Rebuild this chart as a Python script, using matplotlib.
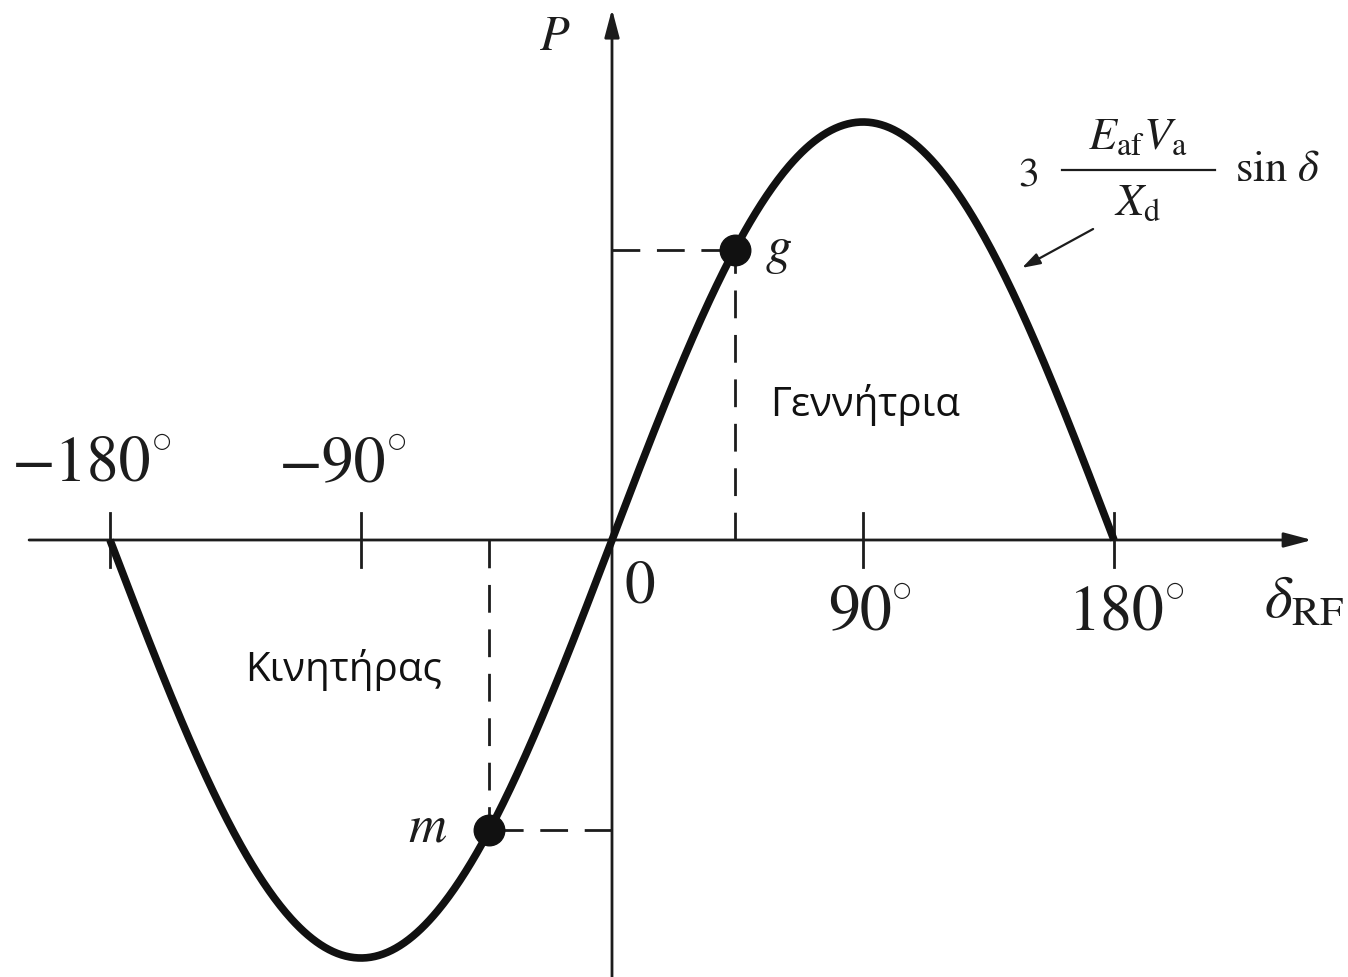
import numpy as np
import matplotlib
matplotlib.use("Agg")
import matplotlib.pyplot as plt

plt.rcParams['mathtext.fontset'] = 'stix'
plt.rcParams['font.family'] = ['Liberation Serif', 'DejaVu Serif']

# Power-angle characteristic P = 3 (E_af V_a / X_d) sin(delta), normalised to 1
delta_deg = np.linspace(-180, 180, 721)
power = np.sin(np.radians(delta_deg))

tick_positions = [-180, -90, 90, 180]
tick_labels = ['\u2212180', '\u221290', '90', '180']

# Operating points: generator (g) and motor (m)
point_names = ['g', 'm']
point_delta = [44, -44]

region_labels = ['Γεννήτρια', 'Κινητήρας']

W, H = 1348, 977
fig = plt.figure(figsize=(W / 100, H / 100), dpi=100)
ax = fig.add_axes([0, 0, 1, 1])
ax.set_axis_off()

px_per_deg = 2.789
px_per_unit = 418.0
x0, y0 = 612, 540
ax.set_xlim(-x0 / px_per_deg, (W - x0) / px_per_deg)
ax.set_ylim(-(H - y0) / px_per_unit, y0 / px_per_unit)

ink = '#1c1c1c'
axis_kw = dict(color=ink, lw=2.0)
arrow_style = '-|>,head_length=1.7,head_width=0.45'
# horizontal axis with arrow
ax.annotate('', xy=(251, 0), xytext=(-209, 0),
            arrowprops=dict(arrowstyle=arrow_style, color=ink, lw=2.0,
                            shrinkA=0, shrinkB=0))
# vertical axis with arrow
ax.annotate('', xy=(0, 1.27), xytext=(0, -1.05),
            arrowprops=dict(arrowstyle=arrow_style, color=ink, lw=2.0,
                            shrinkA=0, shrinkB=0))

# tick marks
for t in tick_positions:
    ax.plot([t, t], [-0.065, 0.065], **axis_kw)

# curve
ax.plot(delta_deg, power, color='#111111', lw=5.5, solid_capstyle='butt', zorder=3)

# tick labels: number followed by a degree ring
label_pos = [(-190, 0.178), (-100, 0.178), (89, -0.178), (181, -0.178)]
renderer = fig.canvas.get_renderer()
for lab, (lx, ly) in zip(tick_labels, label_pos):
    txt = ax.text(lx, ly, lab, fontsize=46, ha='center', va='center', color=ink,
                  fontfamily='STIXGeneral')
    bb = txt.get_window_extent(renderer)
    ax.text(bb.x1 + 1, bb.y1 + 5, '\u25CB', fontsize=15, ha='left', va='top',
            color=ink, transform=None, fontfamily='DejaVu Sans')

ax.text(10, -0.115, '0', fontsize=44, ha='center', va='center', color=ink,
        fontfamily='STIXGeneral')

# axis labels
ax.text(-20.5, 1.20, r'$P$', fontsize=35, ha='center', va='center', color=ink)
ax.text(248, -0.152, r'$\delta_{\mathrm{RF}}$', fontsize=43, ha='center', va='center', color=ink)

# operating points with dashed projections
dash_kw = dict(color=ink, lw=2.0, dashes=(10, 6))
for name, d in zip(point_names, point_delta):
    p = np.sin(np.radians(d))
    ax.plot([0, d], [p, p], **dash_kw, zorder=2)
    ax.plot([d, d], [0, p], **dash_kw, zorder=2)
    ax.plot(d, p, 'o', color='#111111', markersize=22, zorder=4)

g_d = point_delta[0]
m_d = point_delta[1]
ax.text(g_d + 15.5, np.sin(np.radians(g_d)) - 0.005, r'$g$', fontsize=38,
        ha='center', va='center', color=ink)
ax.text(m_d - 22, np.sin(np.radians(m_d)) + 0.005, r'$m$', fontsize=38,
        ha='center', va='center', color=ink)

# region labels
ax.text(90.7, 0.323, region_labels[0], fontsize=29, ha='center', va='center',
        color='#111111', fontfamily='Open Sans')
ax.text(-96.4, -0.311, region_labels[1], fontsize=29, ha='center', va='center',
        color='#111111', fontfamily='Open Sans')

# formula annotation
ax.text(149, 0.873, r'$3$', fontsize=30, ha='center', va='center', color=ink)
ax.plot([161.3, 216.2], [0.885, 0.885], color=ink, lw=1.6)
ax.text(188.6, 0.962, r'$E_{\mathrm{af}}V_{\mathrm{a}}$', fontsize=33,
        ha='center', va='center', color=ink)
ax.text(188.6, 0.805, r'$X_{\mathrm{d}}$', fontsize=33,
        ha='center', va='center', color=ink)
ax.text(238.5, 0.885, r'$\mathrm{sin}\ \delta$', fontsize=32,
        ha='center', va='center', color=ink)
ax.annotate('', xy=(147, 0.651), xytext=(172.5, 0.744),
            arrowprops=dict(arrowstyle='-|>,head_length=1.1,head_width=0.35',
                            color=ink, lw=1.6, shrinkA=0, shrinkB=0))

fig.savefig('out.png', dpi=100)
